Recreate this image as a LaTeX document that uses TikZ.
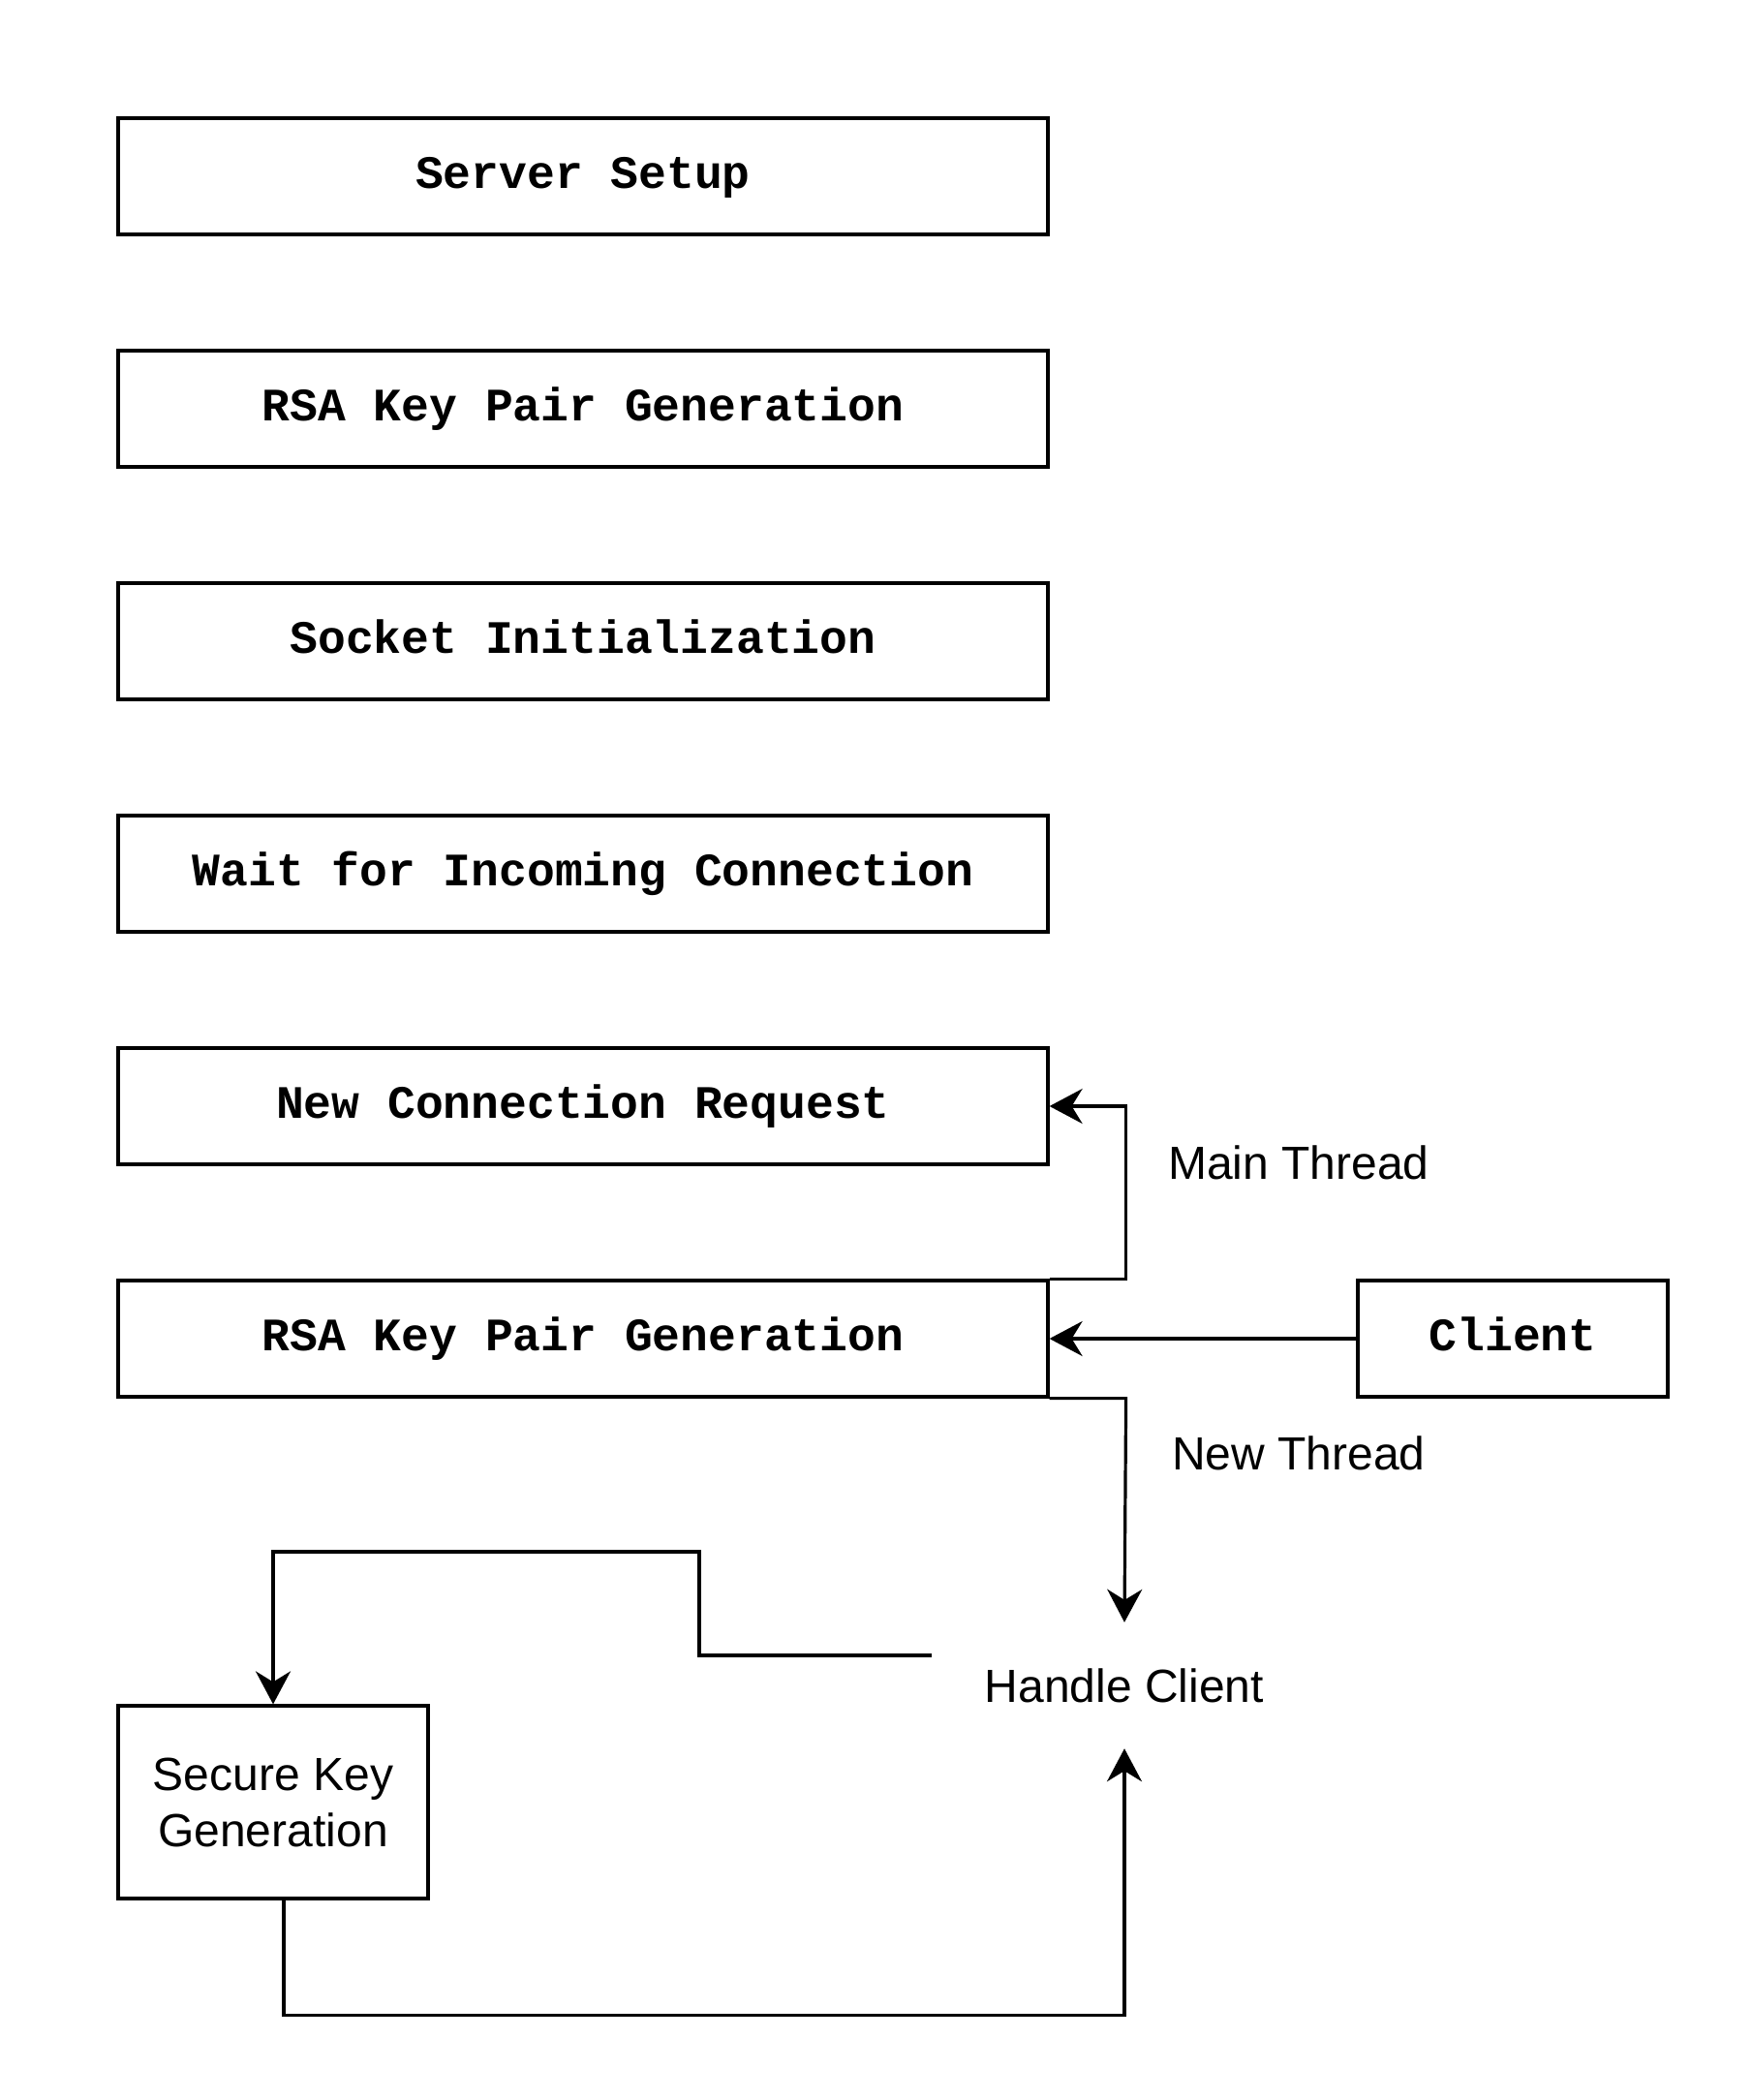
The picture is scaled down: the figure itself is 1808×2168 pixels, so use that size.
\documentclass[tikz,border=0pt]{standalone}
\usepackage{fontspec}
\setmainfont{Liberation Sans}
\setmonofont{Liberation Mono}
\usetikzlibrary{arrows.meta}
\begin{document}
\begin{tikzpicture}[x=1pt,y=-1pt,
  box/.style={draw, line width=3.2pt, minimum width=960pt, minimum height=120pt, inner sep=0pt,
    text height=35pt, text depth=10pt,
    font=\fontsize{48}{56}\selectfont\ttfamily\bfseries},
  smallbox/.style={box, minimum width=320pt},
  plain/.style={inner sep=0pt, font=\fontsize{48}{58}\selectfont},
  conn/.style={line width=3.2pt, -{Stealth[length=34pt,width=36pt,inset=11pt]}}]
\useasboundingbox (0,0) rectangle (1808,2168);
\node[box] (setup) at (602,182) {Server Setup};
\node[box] (rsa1) at (602,422) {RSA Key Pair Generation};
\node[box] (sock) at (602,662) {Socket Initialization};
\node[box] (wait) at (602,902) {Wait for Incoming Connection};
\node[box] (newconn) at (602,1142) {New Connection Request};
\node[box] (rsa2) at (602,1382) {RSA Key Pair Generation};
\node[smallbox] (client) at (1562,1382) {Client};
\node[plain, minimum width=398pt, minimum height=130pt] (handle) at (1161,1740) {Handle Client};
\node[smallbox, minimum height=199pt, text height=, text depth=, font=\fontsize{48}{58}\selectfont, align=center] (sk) at (282,1860.5) {Secure Key\\Generation};
\node[plain] (mainlbl) at (1341,1200) {Main Thread};
\node[plain] (newlbl) at (1341,1500) {New Thread};
\draw[conn] (rsa2.north east) -- ++(79,0) |- (newconn.east);
\draw[conn] (client.west) -- (rsa2.east);
\draw[conn] (rsa2.south east) -- ++(79,0) -- (handle.north);
\draw[conn] ([yshift=31pt]handle.west) -- (722,1709) -- (722,1602) -| (sk.north);
\draw[conn] ([xshift=11pt]sk.south) -- ++(0,119) -| (handle.south);
\end{tikzpicture}
\end{document}
